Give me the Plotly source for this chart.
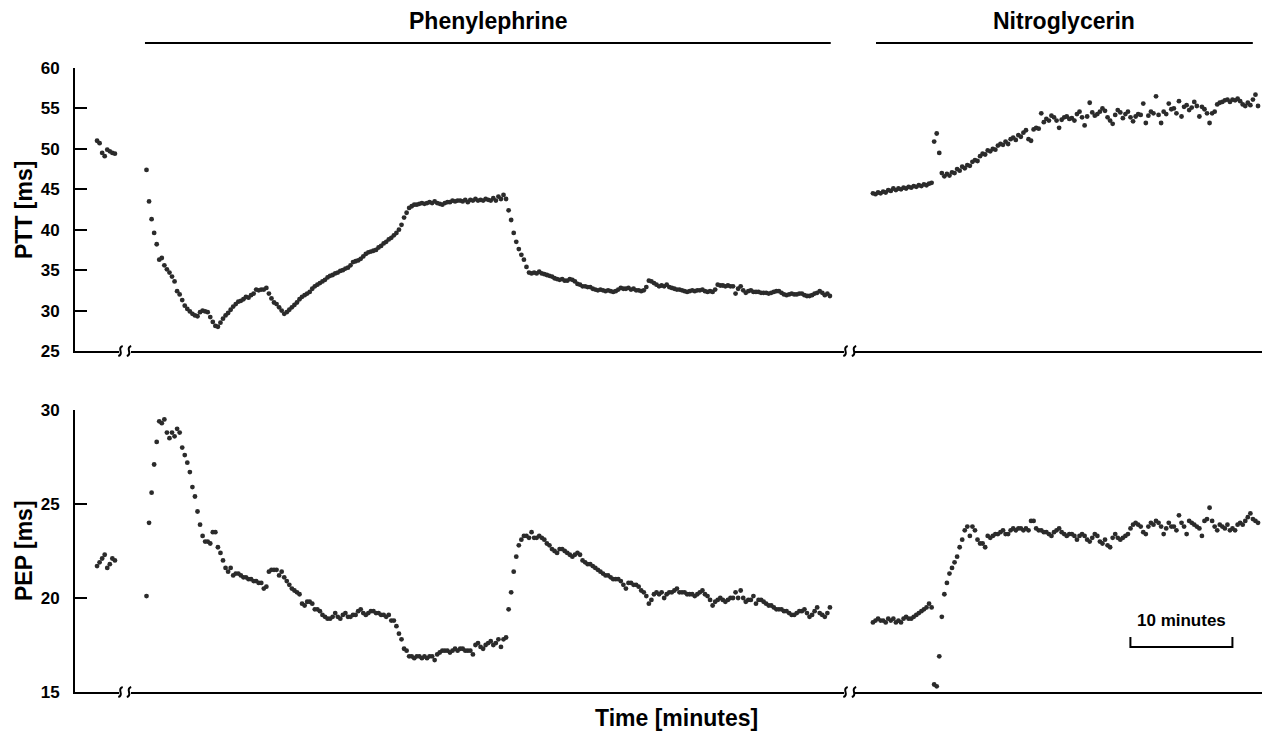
import numpy as np
import plotly.graph_objects as go

# ---------------- data ----------------
sample_interval_min = 0.25          # one beat-averaged sample every 15 s

# first-sample time (minutes from start of each displayed segment)
baseline_start = 2.16
phenyl_start = 1.52
nitro_start = 1.76

ptt_baseline = [51.0, 50.7, 49.5, 49.1, 49.9, 49.7, 49.5, 49.4]
pep_baseline = [21.7, 21.9, 22.1, 22.3, 21.6, 21.8, 22.1, 22.0]

ptt_phenylephrine = [
    47.4, 43.5, 41.3, 39.6, 38.2, 36.3, 36.5, 35.6, 35.1, 34.7,
    34.2, 33.6, 32.4, 32.0, 31.3, 30.6, 30.2, 29.9, 29.6, 29.4,
    29.3, 29.8, 30.0, 29.9, 29.8, 29.2, 28.6, 28.1, 28.0, 28.5,
    29.0, 29.4, 29.7, 30.1, 30.5, 30.8, 31.1, 31.2, 31.4, 31.7,
    31.6, 31.9, 32.1, 32.6, 32.5, 32.6, 32.6, 32.8, 32.1, 31.5,
    31.0, 30.8, 30.4, 30.0, 29.6, 29.8, 30.1, 30.4, 30.7, 31.0,
    31.4, 31.7, 31.9, 32.1, 32.3, 32.7, 33.0, 33.2, 33.4, 33.6,
    33.8, 34.1, 34.3, 34.4, 34.6, 34.7, 34.9, 35.0, 35.2, 35.3,
    35.6, 36.0, 36.1, 36.2, 36.4, 36.7, 37.0, 37.2, 37.3, 37.4,
    37.5, 37.8, 38.0, 38.3, 38.5, 38.8, 39.0, 39.3, 39.6, 40.0,
    40.6, 41.5, 42.1, 42.7, 42.9, 43.1, 43.1, 43.2, 43.3, 43.2,
    43.3, 43.4, 43.3, 43.5, 43.3, 43.2, 43.1, 43.3, 43.4, 43.4,
    43.6, 43.5, 43.6, 43.6, 43.5, 43.7, 43.4, 43.7, 43.6, 43.8,
    43.6, 43.7, 43.6, 43.8, 43.7, 43.6, 43.9, 43.6, 44.1, 43.8,
    44.3, 43.8, 42.4, 41.2, 39.6, 38.5, 37.6, 36.9, 36.3, 35.4,
    34.7, 34.6, 34.7, 34.6, 34.8, 34.6, 34.5, 34.4, 34.3, 34.2,
    34.0, 33.9, 33.8, 33.9, 33.7, 33.7, 33.9, 33.8, 33.6, 33.3,
    33.2, 33.0, 33.0, 32.9, 32.9, 32.7, 32.6, 32.5, 32.6, 32.5,
    32.4, 32.5, 32.4, 32.3, 32.4, 32.6, 32.8, 32.7, 32.7, 32.8,
    32.6, 32.7, 32.5, 32.5, 32.4, 32.5, 32.9, 33.7, 33.6, 33.4,
    33.2, 33.0, 33.1, 33.0, 33.2, 32.9, 32.8, 32.7, 32.6, 32.6,
    32.5, 32.4, 32.3, 32.4, 32.5, 32.4, 32.5, 32.5, 32.6, 32.4,
    32.3, 32.4, 32.3, 32.6, 33.2, 33.1, 33.1, 33.0, 33.1, 33.0,
    33.0, 32.1, 32.7, 33.0, 32.5, 32.2, 32.4, 32.5, 32.3, 32.3,
    32.3, 32.2, 32.2, 32.2, 32.1, 32.2, 32.3, 32.4, 32.4, 32.2,
    32.0, 31.9, 32.0, 32.1, 32.0, 32.0, 32.1, 32.1, 31.9, 31.8,
    31.8, 31.9, 32.1, 32.2, 32.4, 32.2, 31.9, 32.1, 31.8,
]

pep_phenylephrine = [
    20.1, 24.0, 25.6, 27.1, 28.3, 29.4, 29.3, 29.5, 28.8, 28.5,
    28.8, 28.6, 29.0, 28.8, 28.0, 27.6, 27.2, 26.7, 25.9, 25.4,
    24.6, 23.9, 23.3, 23.0, 23.0, 22.9, 23.5, 23.5, 22.7, 22.4,
    22.0, 21.6, 21.4, 21.6, 21.2, 21.3, 21.3, 21.2, 21.1, 21.1,
    21.0, 21.0, 20.9, 20.9, 20.8, 20.8, 20.5, 20.6, 21.4, 21.5,
    21.5, 21.5, 21.2, 21.4, 21.1, 20.9, 20.7, 20.5, 20.4, 20.3,
    20.2, 19.7, 19.6, 19.8, 19.8, 19.7, 19.4, 19.4, 19.3, 19.1,
    19.0, 18.9, 18.9, 19.0, 19.2, 19.0, 18.9, 19.1, 19.2, 19.0,
    19.0, 19.1, 19.1, 19.3, 19.4, 19.2, 19.1, 19.2, 19.3, 19.3,
    19.2, 19.2, 19.1, 19.1, 19.0, 19.1, 18.8, 18.8, 18.5, 18.1,
    17.8, 17.3, 17.2, 16.9, 16.9, 16.8, 16.9, 16.9, 16.8, 16.9,
    16.8, 16.9, 16.9, 16.7, 17.0, 17.1, 17.2, 17.2, 17.2, 17.1,
    17.2, 17.3, 17.2, 17.3, 17.3, 17.2, 17.2, 17.2, 17.0, 17.5,
    17.6, 17.4, 17.3, 17.5, 17.6, 17.7, 17.5, 17.6, 17.8, 17.4,
    17.8, 17.9, 19.4, 20.3, 21.4, 22.2, 22.8, 23.1, 23.3, 23.3,
    23.2, 23.5, 23.2, 23.2, 23.3, 23.2, 23.1, 22.9, 22.8, 22.6,
    22.5, 22.4, 22.6, 22.6, 22.5, 22.4, 22.3, 22.2, 22.3, 22.4,
    22.3, 22.0, 21.9, 21.8, 21.8, 21.7, 21.6, 21.5, 21.4, 21.3,
    21.2, 21.2, 21.1, 21.0, 21.0, 21.0, 20.9, 20.7, 20.5, 20.8,
    20.8, 20.7, 20.7, 20.6, 20.4, 20.3, 20.1, 19.7, 19.9, 20.2,
    20.3, 20.2, 20.3, 20.0, 20.2, 20.3, 20.3, 20.4, 20.5, 20.3,
    20.3, 20.3, 20.2, 20.2, 20.2, 20.1, 20.2, 20.3, 20.4, 20.2,
    20.1, 19.9, 19.6, 19.8, 19.9, 20.0, 19.9, 19.8, 19.9, 20.0,
    20.0, 20.3, 20.0, 20.4, 20.0, 19.8, 19.9, 19.9, 20.1, 19.7,
    19.9, 19.9, 19.8, 19.7, 19.6, 19.6, 19.5, 19.4, 19.4, 19.4,
    19.3, 19.3, 19.2, 19.1, 19.1, 19.2, 19.3, 19.3, 19.4, 19.2,
    19.0, 19.1, 19.3, 19.5, 19.2, 19.1, 19.0, 19.2, 19.5,
]

ptt_nitroglycerin = [
    44.5, 44.4, 44.6, 44.5, 44.7, 44.6, 44.9, 44.8, 45.1, 44.9,
    45.1, 45.0, 45.2, 45.1, 45.3, 45.2, 45.4, 45.3, 45.5, 45.4,
    45.6, 45.5, 45.7, 45.8, 50.9, 51.9, 49.5, 47.0, 46.6, 46.9,
    46.7, 47.1, 47.0, 47.5, 47.3, 47.8, 47.6, 48.0, 47.9, 48.4,
    48.6, 48.5, 49.1, 49.4, 49.3, 49.8, 49.7, 50.0, 49.9, 50.4,
    50.6, 50.5, 50.9, 50.6, 51.2, 51.4, 51.1, 51.7, 51.5, 52.0,
    52.3, 51.2, 51.0, 52.4, 52.6, 52.5, 54.4, 53.3, 53.7, 53.5,
    54.1, 53.9, 53.5, 52.6, 53.6, 53.9, 54.0, 53.7, 53.8, 53.5,
    54.3, 54.6, 53.9, 52.9, 54.0, 55.7, 54.5, 54.1, 54.3, 54.6,
    55.0, 54.7, 53.9, 53.5, 53.1, 54.2, 54.8, 54.5, 53.8, 54.3,
    54.6, 53.9, 53.4, 54.0, 54.3, 54.2, 55.6, 53.2, 54.1, 54.6,
    54.4, 56.5, 54.2, 53.2, 54.6, 54.3, 55.6, 54.9, 55.0, 54.4,
    55.9, 54.0, 55.2, 55.4, 54.8, 55.1, 55.8, 55.3, 54.0, 55.2,
    54.9, 54.4, 53.2, 54.4, 54.6, 55.5, 55.7, 55.8, 56.0, 56.1,
    55.8, 56.1, 56.0, 56.2, 55.9, 55.5, 55.3, 55.7, 55.4, 56.1,
    56.7, 55.3,
]

pep_nitroglycerin = [
    18.7, 18.8, 18.9, 18.8, 18.8, 18.7, 18.9, 18.8, 18.9, 18.7,
    18.8, 18.7, 18.9, 19.0, 18.9, 18.9, 19.0, 19.1, 19.2, 19.3,
    19.4, 19.5, 19.7, 19.5, 15.4, 15.3, 16.9, 19.0, 20.2, 20.8,
    21.3, 21.6, 21.9, 22.2, 22.7, 23.1, 23.6, 23.8, 23.3, 23.8,
    23.6, 23.1, 22.9, 22.9, 22.7, 23.3, 23.2, 23.3, 23.4, 23.4,
    23.5, 23.6, 23.4, 23.4, 23.6, 23.7, 23.6, 23.7, 23.7, 23.6,
    23.7, 23.6, 24.1, 24.1, 23.7, 23.6, 23.6, 23.5, 23.5, 23.4,
    23.3, 23.5, 23.6, 23.7, 23.5, 23.4, 23.3, 23.4, 23.4, 23.3,
    23.1, 23.3, 23.4, 23.3, 23.1, 23.0, 23.2, 23.4, 23.3, 23.0,
    22.9, 23.1, 22.8, 22.7, 23.2, 23.4, 23.2, 23.1, 23.2, 23.3,
    23.4, 23.7, 23.9, 24.0, 23.9, 23.8, 23.5, 23.4, 23.8, 24.0,
    23.9, 24.1, 24.0, 23.8, 23.4, 23.7, 24.0, 23.8, 23.8, 23.6,
    24.4, 24.0, 23.8, 23.4, 24.1, 24.0, 23.9, 23.8, 23.7, 23.3,
    24.1, 24.2, 24.8, 24.1, 23.8, 23.6, 23.9, 23.8, 23.7, 23.9,
    23.6, 23.7, 23.6, 23.9, 24.0, 23.9, 24.1, 24.3, 24.5, 24.2,
    24.1, 24.0,
]

ptt_ticks = [25, 30, 35, 40, 45, 50, 55, 60]
pep_ticks = [15, 20, 25, 30]
segment_spans_min = [4.31, 69.9, 39.9]     # displayed width of each time segment
phenyl_bar_min = [1.37, 68.6]              # drug-period bars (minutes in segment)
nitro_bar_min = [2.06, 39.0]
scale_bar_min = [27.0, 37.0]               # 10-minute scale bar

# ---------------- geometry ----------------
# the page body adds an 8 px margin, so the figure is drawn 8 px smaller
PAGE_PAD = 8
W, H = 1270 - PAGE_PAD, 731 - PAGE_PAD
ML, MR, MT, MB = 75 - PAGE_PAD, 8, 68 - PAGE_PAD, 39
PW, PH = W - ML - MR, H - MT - MB
SCREEN_LEFT, SCREEN_BOTTOM = 75, 692       # plot-area corner on screen

def px_x(px):
    return (px - SCREEN_LEFT) / PW

def px_y(py):
    return (SCREEN_BOTTOM - py) / PH

seg_domains = [[0, px_x(119)], [px_x(131), px_x(844)], [px_x(855), 1.0]]
top_domain = [px_y(351), 1.0]
bot_domain = [0.0, px_y(410)]

FONT = "Liberation Sans, Arial, Helvetica, sans-serif"
DOT = "#2b2b2b"

def times(start, n):
    return start + sample_interval_min * np.arange(n)

fig = go.Figure()
series = [
    ("x", "y", baseline_start, ptt_baseline),
    ("x2", "y", phenyl_start, ptt_phenylephrine),
    ("x3", "y", nitro_start, ptt_nitroglycerin),
    ("x4", "y2", baseline_start, pep_baseline),
    ("x5", "y2", phenyl_start, pep_phenylephrine),
    ("x6", "y2", nitro_start, pep_nitroglycerin),
]
for xa, ya, t0, vals in series:
    fig.add_trace(go.Scatter(
        x=times(t0, len(vals)), y=vals, xaxis=xa, yaxis=ya,
        mode="markers", marker=dict(size=4.8, color=DOT, line=dict(width=0)),
        showlegend=False, hoverinfo="skip", cliponaxis=False,
    ))

axis_common = dict(showgrid=False, zeroline=False, showline=True,
                   linecolor="black", linewidth=2)
layout_axes = {}
names = ["xaxis", "xaxis2", "xaxis3", "xaxis4", "xaxis5", "xaxis6"]
for k, name in enumerate(names):
    seg = k % 3
    layout_axes[name] = dict(
        axis_common, domain=seg_domains[seg], range=[0, segment_spans_min[seg]],
        anchor="y" if k < 3 else "y2", showticklabels=False, ticks="",
        fixedrange=True,
    )
ytick_font = dict(family=FONT, size=17, color="black", weight="bold")
layout_axes["yaxis"] = dict(
    axis_common, domain=top_domain, range=[25, 60], anchor="x",
    tickvals=ptt_ticks, ticks="inside", ticklen=12, tickwidth=2, tickcolor="black",
    tickfont=ytick_font, ticklabelstandoff=10,
)
layout_axes["yaxis2"] = dict(
    axis_common, domain=bot_domain, range=[15, 30], anchor="x4",
    tickvals=pep_ticks, ticks="inside", ticklen=12, tickwidth=2, tickcolor="black",
    tickfont=ytick_font, ticklabelstandoff=10,
)

shapes = []
# axis-break squiggles
def squiggle(cx, cy):
    p = [(cx + 2.2, cy - 5), (cx - 1.2, cy - 4), (cx, cy),
         (cx + 1.2, cy + 4), (cx - 2.2, cy + 5)]
    q = [(px_x(a), px_y(b)) for a, b in p]
    path = (f"M {q[0][0]},{q[0][1]} Q {q[1][0]},{q[1][1]} {q[2][0]},{q[2][1]} "
            f"Q {q[3][0]},{q[3][1]} {q[4][0]},{q[4][1]}")
    return dict(type="path", xref="paper", yref="paper", path=path,
                line=dict(color="black", width=2))

for cy in (351, 692):
    for cx in (120.5, 129, 845.5, 854):
        shapes.append(squiggle(cx, cy))

bar_y = px_y(43)
shapes.append(dict(type="line", xref="x2", yref="paper", x0=phenyl_bar_min[0],
                   x1=phenyl_bar_min[1], y0=bar_y, y1=bar_y,
                   line=dict(color="black", width=2)))
shapes.append(dict(type="line", xref="x3", yref="paper", x0=nitro_bar_min[0],
                   x1=nitro_bar_min[1], y0=bar_y, y1=bar_y,
                   line=dict(color="black", width=2)))
# 10-minute scale bar (data coordinates of the nitroglycerin PEP panel)
sb0, sb1 = scale_bar_min
shapes.append(dict(type="path", xref="x6", yref="y2",
                   path=f"M {sb0},17.93 L {sb0},17.4 L {sb1},17.4 L {sb1},17.93",
                   line=dict(color="black", width=2)))

title_font = dict(family=FONT, size=23, color="black", weight="bold")
drug_font = dict(family=FONT, size=23, color="black", weight="bold")
centered = dict(xanchor="center", yanchor="middle", showarrow=False)
annotations = [
    dict(text="Phenylephrine", xref="x2", yref="paper",
         x=sum(phenyl_bar_min) / 2, y=px_y(21), font=drug_font, **centered),
    dict(text="Nitroglycerin", xref="x3", yref="paper",
         x=sum(nitro_bar_min) / 2, y=px_y(21), font=drug_font, **centered),
    dict(text="PTT [ms]", xref="paper", yref="paper", x=px_x(24), y=px_y(210),
         textangle=-90, font=title_font, **centered),
    dict(text="PEP [ms]", xref="paper", yref="paper", x=px_x(24), y=px_y(551),
         textangle=-90, font=title_font, **centered),
    dict(text="Time [minutes]", xref="paper", yref="paper", x=px_x(677),
         y=px_y(718), font=title_font, **centered),
    dict(text="10 minutes", xref="x6", yref="y2", x=sum(scale_bar_min) / 2,
         y=18.8, font=dict(family=FONT, size=17, color="black", weight="bold"),
         **centered),
]

fig.update_layout(
    width=W, height=H, margin=dict(l=ML, r=MR, t=MT, b=MB),
    plot_bgcolor="white", paper_bgcolor="white",
    shapes=shapes, annotations=annotations, showlegend=False,
    **layout_axes,
)

fig.write_html("out.html", config={"displayModeBar": False})
